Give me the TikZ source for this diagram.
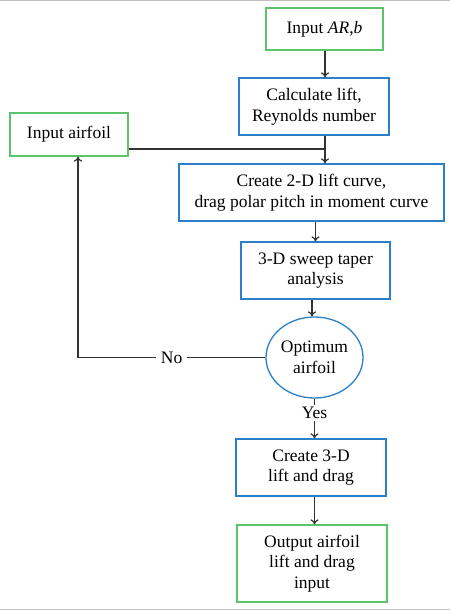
\documentclass[tikz,border=0pt]{standalone}
\usepackage{fontspec}
\setmainfont{Liberation Serif}
\usetikzlibrary{shapes.geometric,arrows.meta}
\definecolor{boxgreen}{HTML}{5CC36A}
\definecolor{boxblue}{HTML}{2B7FC8}
\definecolor{linegray}{HTML}{333333}
\begin{document}
\begin{tikzpicture}[x=1pt,y=-1pt,
  every node/.style={font=\fontsize{17.5}{20.7}\selectfont, align=center, inner sep=0pt},
  gbox/.style={draw=boxgreen, line width=1.3pt, rectangle},
  bbox/.style={draw=boxblue, line width=1.3pt, rectangle},
  conn/.style={draw=linegray, line width=1.2pt},
  arr/.style={conn, -{To[length=5pt,width=8pt]}},
  lbl/.style={fill=white, inner xsep=5pt, inner ysep=4pt}]
\useasboundingbox (0,0) rectangle (450,610);
\draw[gray!50, line width=1.5pt] (0,0.75) -- (450,0.75);
\draw[gray!50, line width=1.5pt] (0,609.25) -- (450,609.25);

\node[gbox, minimum width=117pt, minimum height=42pt] (ar) at (324.5,29) {Input \textit{AR},\textit{b}};
\node[bbox, minimum width=150pt, minimum height=57pt] (calc) at (314,106.5) {Calculate lift,\\Reynolds number};
\node[gbox, minimum width=118pt, minimum height=43pt] (airfoil) at (69,134.5) {Input airfoil};
\node[bbox, minimum width=265pt, minimum height=57pt] (create2d) at (311.5,192.5) {Create 2-D lift curve,\\drag polar pitch in moment curve};
\node[bbox, minimum width=149pt, minimum height=57pt] (sweep) at (315.5,270.5) {3-D sweep taper\\analysis};
\node[ellipse, draw=boxblue, line width=1.3pt, minimum width=97pt, minimum height=81pt] (opt) at (314.5,357.5) {Optimum\\airfoil};
\node[bbox, minimum width=150pt, minimum height=57pt] (create3d) at (311,467.5) {Create 3-D\\lift and drag};
\node[gbox, minimum width=150pt, minimum height=77pt] (out) at (312,563.5) {Output airfoil\\lift and drag\\input};

\coordinate (j) at (325,149);
\coordinate (c) at (78,357.5);

\draw[arr] (ar.south -| j) -- (calc.north -| j);
\draw[arr] (calc.south -| j) -- (create2d.north -| j);
\draw[conn] (airfoil.east |- j) -- (j);
\draw[arr] (create2d.south -| sweep) -- (sweep.north);
\draw[arr] (sweep.south -| 312,0) -- (opt.north -| 312,0);
\draw[arr] (opt.west) -- node[lbl, pos=0.5]{No} (c) -- (c |- airfoil.south);
\draw[arr] (opt.south) -- node[lbl, pos=0.36, inner ysep=2pt]{Yes} (create3d.north -| opt.south);
\draw[arr] (create3d.south -| opt.south) -- (out.north -| opt.south);
\end{tikzpicture}
\end{document}
